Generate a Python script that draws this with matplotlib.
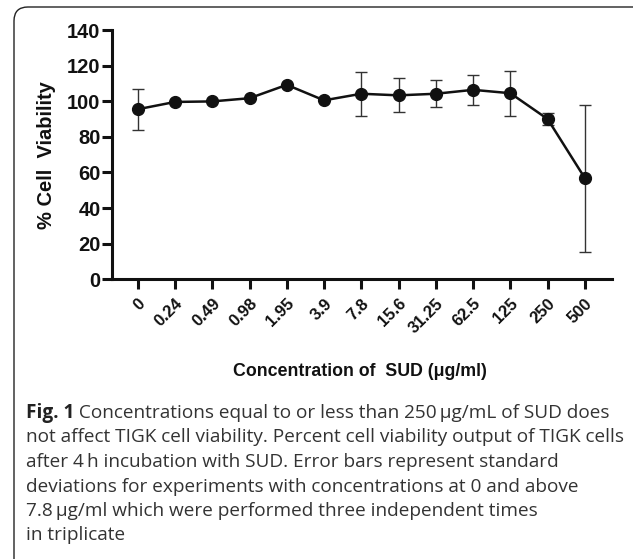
import numpy as np
import matplotlib
matplotlib.use("Agg")
from matplotlib import pyplot as plt
from matplotlib.patches import FancyBboxPatch

# data
concentrations = ['0', '0.24', '0.49', '0.98', '1.95', '3.9', '7.8', '15.6',
                  '31.25', '62.5', '125', '250', '500']
viability = [95.5, 99.6, 99.9, 101.7, 109.2, 100.5, 104.2, 103.3, 104.2,
             106.4, 104.5, 90.0, 56.8]
sd = [11.6, 0, 0, 0, 0, 0, 12.4, 9.5, 7.6, 8.5, 12.6, 3.2, 41.2]

yticks = [0, 20, 40, 60, 80, 100, 120, 140]

caption_bold = "Fig. 1"
caption_first = " Concentrations equal to or less than 250\u2009\u03bcg/mL of SUD does"
caption_rest = [
    "not affect TIGK cell viability. Percent cell viability output of TIGK cells",
    "after 4\u2009h incubation with SUD. Error bars represent standard",
    "deviations for experiments with concentrations at 0 and above",
    "7.8\u2009\u03bcg/ml which were performed three independent times",
    "in triplicate",
]

W, H = 633, 559
fig = plt.figure(figsize=(W / 100, H / 100), dpi=100)
plt.rcParams['font.family'] = ['Liberation Sans', 'DejaVu Sans']

# rounded frame running off the right and bottom edges
frame = FancyBboxPatch((14 / W, -20 / H), (W + 40) / W, (H - 7 + 20) / H,
                       boxstyle="round,pad=0,rounding_size=0.022",
                       transform=fig.transFigure, fill=False,
                       edgecolor='#222222', linewidth=1.0, mutation_aspect=W / H)
fig.patches.append(frame)

ax = fig.add_axes([111.7 / W, (H - 279.3) / H, 500 / W, 249.3 / H])
x = np.arange(len(concentrations))
ax.plot(x, viability, color='#111111', linewidth=1.8, marker='o',
        markersize=8.5, zorder=3)
err_x = [i for i in x if sd[i] > 0]
ax.errorbar(err_x, [viability[i] for i in err_x], yerr=[sd[i] for i in err_x],
            fmt='none', ecolor='#333333', elinewidth=1.0, capsize=4,
            capthick=1.0, zorder=2)

ax.set_xlim(-0.7, 12.72)
ax.set_ylim(0, 140)
ax.set_yticks(yticks)
ax.set_xticks(x)
ax.set_xticklabels(concentrations, rotation=45, ha='right',
                   rotation_mode='anchor', fontsize=12, fontweight='bold')
ax.set_yticklabels([str(v) for v in yticks], fontsize=14.5, fontweight='bold')
for side in ['top', 'right']:
    ax.spines[side].set_visible(False)
for side in ['left', 'bottom']:
    ax.spines[side].set_linewidth(2.2)
    ax.spines[side].set_color('#111111')
ax.spines['left'].set_bounds(0, 140)
ax.tick_params(axis='both', direction='out', length=7, width=2.2,
               color='#111111', labelcolor='#111111')
ax.tick_params(axis='x', pad=5)
ax.tick_params(axis='y', pad=1)
ax.set_ylabel('% Cell  Viability', fontsize=14.5, fontweight='bold',
              color='#111111', labelpad=8)

fig.text(360 / W, 1 - 372 / H, 'Concentration of  SUD (\u03bcg/ml)',
         ha='center', va='center', fontsize=12.8, fontweight='bold',
         color='#111111')

# caption
cap_font = ['Open Sans', 'DejaVu Sans']
cap_size = 13.7
cx = 26 / W
line_y = [413, 437.5, 462, 486.5, 511, 535.5]
t = fig.text(cx, 1 - line_y[0] / H, caption_bold, family=cap_font,
             fontweight='bold', fontsize=cap_size, color='#222222', va='center')
fig.canvas.draw()
bb = t.get_window_extent(renderer=fig.canvas.get_renderer())
fig.text(bb.x1 / W, 1 - line_y[0] / H, caption_first, family=cap_font,
         fontsize=cap_size, color='#333333', va='center')
for yy, line in zip(line_y[1:], caption_rest):
    fig.text(cx, 1 - yy / H, line, family=cap_font, fontsize=cap_size,
             color='#333333', va='center')

fig.savefig('out.png', dpi=100)
